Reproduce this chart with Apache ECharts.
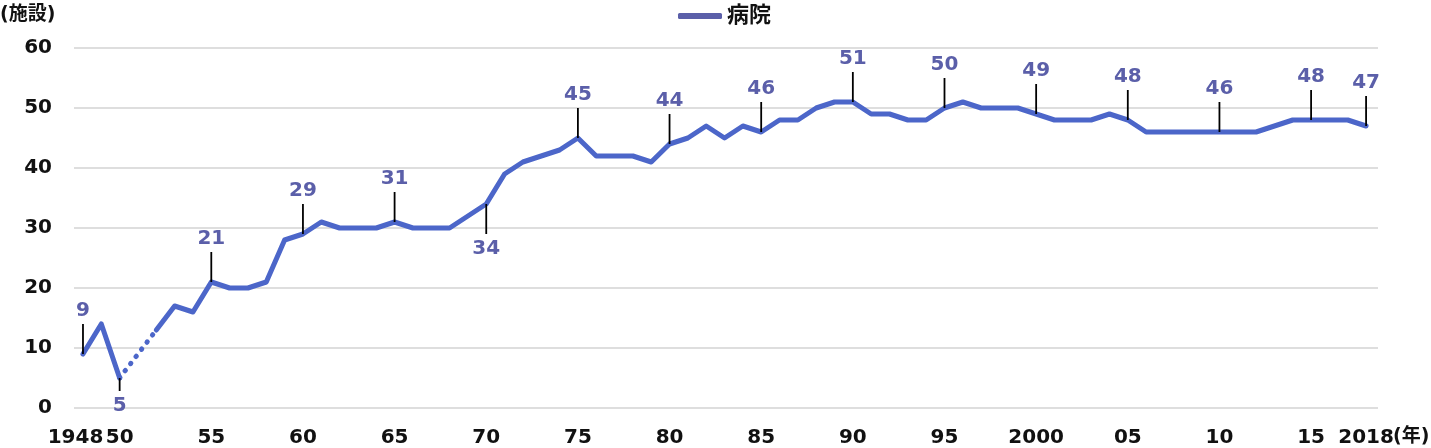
<!DOCTYPE html>
<html>
<head>
<meta charset="utf-8">
<script src="https://cdn.jsdelivr.net/npm/echarts@6/dist/echarts.min.js"></script>
<style>
html,body{margin:0;padding:0;background:#fff;}
#chart{width:1431px;height:448px;}
</style>
</head>
<body>
<div id="chart"></div>
<script>
// ---- data ----
var seriesName = '病院';
var years = [1948,1949,1950,1951,1952,1953,1954,1955,1956,1957,1958,1959,
  1960,1961,1962,1963,1964,1965,1966,1967,1968,1969,1970,1971,1972,1973,1974,
  1975,1976,1977,1978,1979,1980,1981,1982,1983,1984,1985,1986,1987,1988,1989,
  1990,1991,1992,1993,1994,1995,1996,1997,1998,1999,2000,2001,2002,2003,2004,
  2005,2006,2007,2008,2009,2010,2011,2012,2013,2014,2015,2016,2017,2018];
var values = [9,14,5,null,13,17,16,21,20,20,21,28,
  29,31,30,30,30,31,30,30,30,32,34,39,41,42,43,
  45,42,42,42,41,44,45,47,45,47,46,48,48,50,51,
  51,49,49,48,48,50,51,50,50,50,49,48,48,48,49,
  48,46,46,46,46,46,46,46,47,48,48,48,48,47];
var annotatedYears = [1948,1950,1955,1960,1965,1970,1975,1980,1985,1990,1995,2000,2005,2010,2015,2018];
var annotationsBelow = [1950,1970];
var xTickYears = [1948,1950,1955,1960,1965,1970,1975,1980,1985,1990,1995,2000,2005,2010,2015,2018];
var xTickLabels = ['1948','50','55','60','65','70','75','80','85','90','95','2000','05','10','15','2018'];
var yAxisName = '(施設)';
var xAxisUnit = '(年)';

// ---- build ----
var lineColor = '#4c66c9';
var labelColor = '#5b5fa9';
var FONT = '"DejaVu Sans","Noto Sans CJK JP",sans-serif';

var mainData = years.map(function(y,i){ return [y, values[i]]; });
// dotted bridge across missing values
var bridgeData = [];
for (var i = 1; i < values.length - 1; i++) {
  if (values[i] === null && values[i-1] !== null) {
    var j = i; while (values[j] === null) j++;
    bridgeData.push([years[i-1], values[i-1]], [years[j], values[j]]);
  }
}
var annData = annotatedYears.map(function(y){
  var v = values[years.indexOf(y)];
  return [y, v, annotationsBelow.indexOf(y) >= 0 ? 1 : 0];
});

var chart = echarts.init(document.getElementById('chart'));
chart.setOption({
  animation: false,
  textStyle: {fontFamily: FONT},
  grid: {left: 74, right: 53, top: 48, bottom: 40, containLabel: false},
  legend: {
    top: 0, left: 673,
    data: [{name: seriesName, icon: 'roundRect', itemStyle: {color: labelColor}}],
    itemWidth: 44, itemHeight: 6, itemGap: 10,
    selectedMode: false,
    textStyle: {fontFamily: FONT, fontWeight: 'bold', fontSize: 22, color: '#111'}
  },
  xAxis: {
    type: 'value', min: 1947.51, max: 2018.65,
    axisLine: {show: false}, axisTick: {show: false}, splitLine: {show: false},
    axisLabel: {
      customValues: xTickYears,
      margin: 20,
      fontFamily: FONT, fontWeight: 'bold', fontSize: 20, color: '#111',
      formatter: function(v){
        var idx = xTickYears.indexOf(Math.round(v));
        var t = idx >= 0 ? xTickLabels[idx] : '';
        if (Math.round(v) === 1948) return '{a|' + t + '}';
        return t;
      },
      rich: {a: {fontFamily: FONT, fontWeight: 'bold', fontSize: 20, color: '#111', padding: [0, 15, 0, 0]}}
    }
  },
  yAxis: {
    type: 'value', min: 0, max: 60, interval: 10,
    axisLine: {show: false}, axisTick: {show: false},
    splitLine: {lineStyle: {color: '#dedede', width: 2}},
    axisLabel: {margin: 22, fontFamily: FONT, fontWeight: 'bold', fontSize: 20, color: '#111'}
  },
  graphic: [
    {type: 'text', left: 0, top: 6, style: {text: yAxisName, font: 'bold 19px ' + FONT, fill: '#111'}},
    {type: 'text', left: 1393, top: 428, style: {text: xAxisUnit, font: 'bold 19px ' + FONT, fill: '#111'}}
  ],
  series: [
    {
      name: seriesName, type: 'line', data: mainData, connectNulls: false,
      symbol: 'none', z: 3,
      lineStyle: {color: lineColor, width: 5, join: 'round', cap: 'round'},
      itemStyle: {color: lineColor}
    },
    {
      name: 'bridge', type: 'line', data: bridgeData, symbol: 'none', z: 3,
      lineStyle: {color: lineColor, width: 5, type: [0.5, 8.5], cap: 'round'}
    },
    {
      name: 'ann', type: 'custom', data: annData, z: 5, clip: false,
      renderItem: function(params, api){
        var x = api.value(0), v = api.value(1), below = api.value(2);
        var p = api.coord([x, v]);
        var len = below ? (v < 10 ? 13 : 30) : 30;
        var y2 = below ? p[1] + len : p[1] - len;
        var ty = below ? y2 + 15 : y2 - 13;
        return {
          type: 'group',
          children: [
            {type: 'line', shape: {x1: p[0], y1: p[1], x2: p[0], y2: y2},
             style: {stroke: '#000', lineWidth: 1.8}},
            {type: 'text', x: p[0], y: ty,
             style: {text: String(v), font: 'bold 20px ' + FONT, fill: labelColor,
                     align: 'center', verticalAlign: 'middle'}}
          ]
        };
      }
    }
  ]
});
</script>
</body>
</html>
